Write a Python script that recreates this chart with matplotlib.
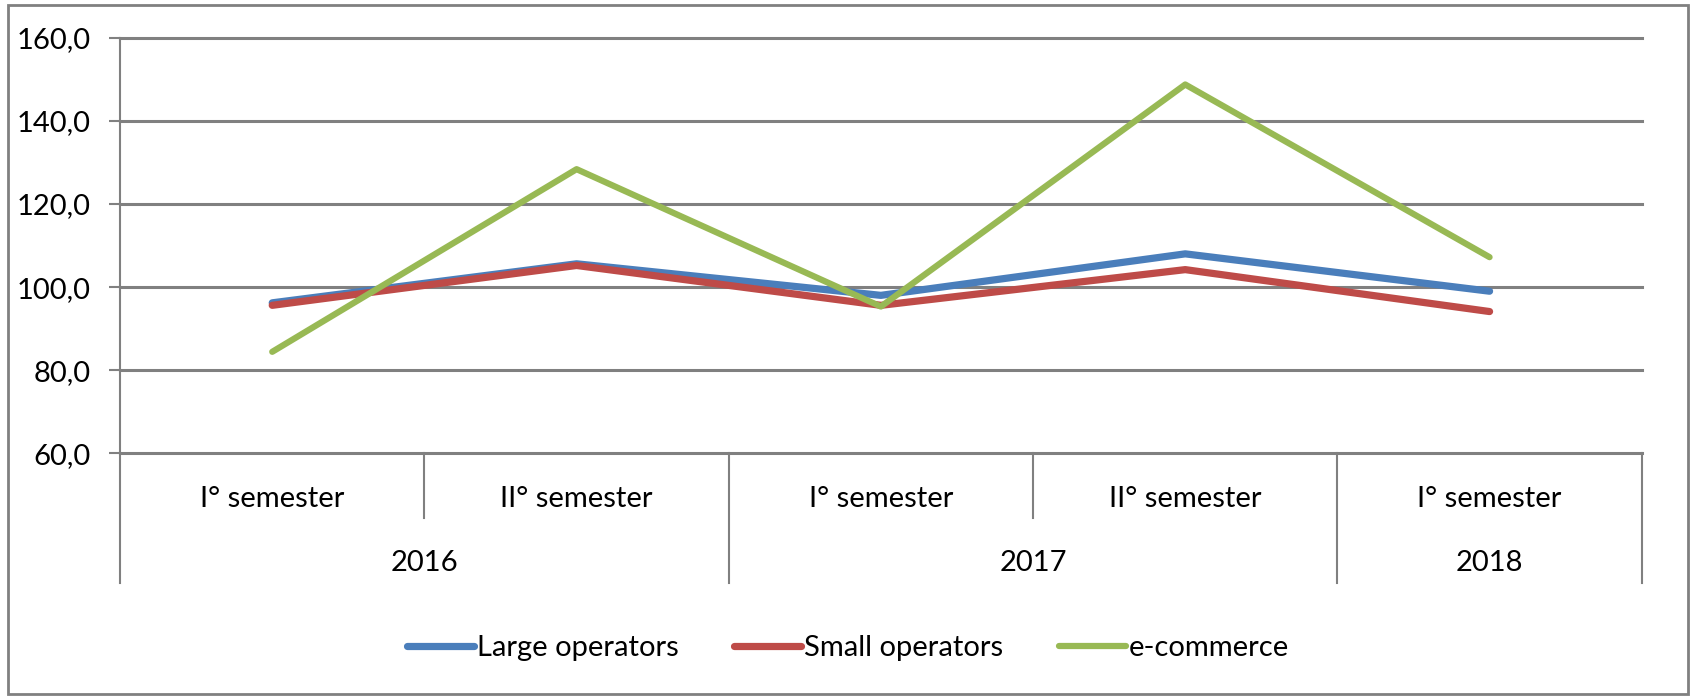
import matplotlib
matplotlib.use('Agg')
import matplotlib.pyplot as plt
from matplotlib.patches import Rectangle
from matplotlib.ticker import FuncFormatter

plt.rcParams['font.family'] = ['Lato', 'DejaVu Sans']

# data
semesters = ['I° semester', 'II° semester', 'I° semester', 'II° semester', 'I° semester']
years = ['2016', '2017', '2018']
year_span = [(0, 1), (2, 3), (4, 4)]
large_ops = [96.2, 105.6, 98.0, 108.0, 99.0]
small_ops = [95.6, 105.2, 95.6, 104.2, 94.1]
ecommerce = [84.4, 128.4, 95.3, 148.8, 107.2]

grey = '#808080'
fs = 21
fig = plt.figure(figsize=(16.96, 6.96), dpi=100)
ax = fig.add_axes([0.0708, 0.349, 0.8972, 0.5964])

x = list(range(len(semesters)))
ax.plot(x, large_ops, color='#4A7EBB', lw=5.2, label='Large operators', solid_capstyle='round')
ax.plot(x, small_ops, color='#BE4B48', lw=5.2, label='Small operators', solid_capstyle='round')
ax.plot(x, ecommerce, color='#98B954', lw=4.5, label='e-commerce', solid_capstyle='round')

ax.set_xlim(-0.5, len(semesters) - 0.5)
ax.set_ylim(60, 160)
ax.set_yticks([60, 80, 100, 120, 140, 160])
ax.yaxis.set_major_formatter(FuncFormatter(lambda v, p: '{:.1f}'.format(v).replace('.', ',')))
ax.tick_params(axis='y', length=8, width=1.5, color=grey, pad=13, labelsize=fs)
ax.set_xticks([])
ax.grid(axis='y', color=grey, lw=2.2)
for gl in ax.get_ygridlines():
    gl.set_clip_on(False)
ax.set_axisbelow(True)
for s in ['top', 'right', 'bottom']:
    ax.spines[s].set_visible(False)
ax.spines['left'].set_color(grey)
ax.spines['left'].set_linewidth(1.5)

# multi-level category axis
tr = ax.get_xaxis_transform()
row1, row2 = -0.157, -0.313
for i in range(len(semesters) + 1):
    b = i - 0.5
    long_line = b in (-0.5, 1.5, 3.5, 4.5)
    ax.plot([b, b], [0, row2 if long_line else row1], color=grey, lw=1.5,
            transform=tr, clip_on=False)
for i, lab in enumerate(semesters):
    ax.text(i, -0.111, lab, transform=tr, ha='center', va='center', fontsize=fs)
for lab, (a, b) in zip(years, year_span):
    ax.text((a + b) / 2, -0.265, lab, transform=tr, ha='center', va='center', fontsize=fs)

fig.legend(loc='center', bbox_to_anchor=(0.5, 0.069), ncol=3, frameon=False,
           fontsize=fs, handlelength=2.3, handletextpad=0.1, columnspacing=1.9)

fig.patches.append(Rectangle((0.005, 0.003), 0.99, 0.99, transform=fig.transFigure,
                             fill=False, edgecolor=grey, lw=2))

fig.savefig('out.png', dpi=100)
